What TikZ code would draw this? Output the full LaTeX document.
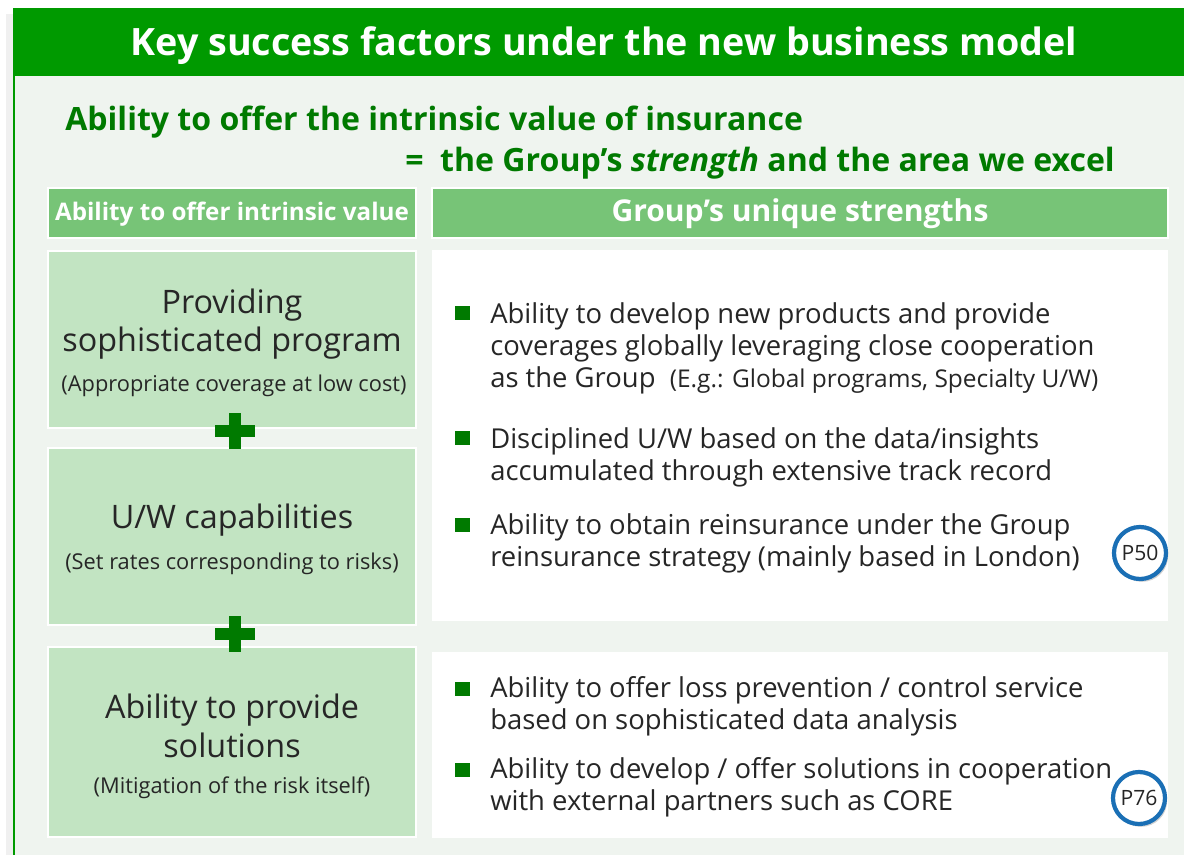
\documentclass[tikz,border=0pt]{standalone}
\usepackage{fontspec}
\setmainfont{Open Sans}
\usetikzlibrary{shadows}

\definecolor{hdrgreen}{HTML}{009A00}
\definecolor{darkgreen}{HTML}{007A00}
\definecolor{midgreen}{HTML}{77C477}
\definecolor{palegreen}{HTML}{C2E4C2}
\definecolor{panelbg}{HTML}{EFF4EF}
\definecolor{refblue}{HTML}{1A6FB5}
\definecolor{bodytext}{HTML}{262626}

\tikzset{
  bigtext/.style={align=center, text=bodytext, inner sep=0pt, font=\fontsize{23}{27.5}\selectfont},
  smalltext/.style={align=center, text=bodytext, inner sep=0pt, font=\fontsize{15.5}{18}\selectfont},
  bullettext/.style={anchor=west, align=left, text=bodytext, inner sep=0pt, font=\fontsize{19.5}{22.8}\selectfont},
  bulletsq/.style={fill=darkgreen, inner sep=0pt, minimum size=10pt},
  pageref/.style={circle, draw=refblue, line width=3pt, fill=white, minimum size=37pt, inner sep=0pt,
    drop shadow={shadow xshift=1.5pt, shadow yshift=-2pt, opacity=.35}, font=\fontsize{15}{17}\selectfont, text=bodytext},
  headbar/.style={fill=midgreen, draw=white, line width=.8pt},
  leftbox/.style={fill=palegreen, draw=white, line width=1.6pt},
  rightbox/.style={fill=white}
}

\begin{document}
\begin{tikzpicture}[x=0.025cm, y=-0.025cm]
	\useasboundingbox (0,0) rectangle (1184,855);
	% frame
	\fill[white] (0,0) rectangle (1184,855);
	\fill[black!6] (6,14) rectangle (14,855);
	\fill[panelbg] (14,76) rectangle (1184,855);
	\fill[hdrgreen] (14,8) rectangle (1184,76);
	\draw[hdrgreen, line width=1.6pt] (14,8) -- (14,855);
	\node[text=white, font=\bfseries\fontsize{26.8}{30}\selectfont] (title) at (604,46) {Key success factors under the new business model};
	
	% subtitle
	\node[anchor=base west, text=darkgreen, font=\bfseries\fontsize{22.8}{26}\selectfont, inner sep=0pt] (sub1) at (65,130) {Ability to offer the intrinsic value of insurance};
	\node[anchor=base west, text=darkgreen, font=\bfseries\fontsize{22.8}{26}\selectfont, inner sep=0pt] (sub2) at (405,171) {=\ \ the Group’s \textit{strength} and the area we excel};
	
	% column heads
	\fill[headbar] (48,188) rectangle (416,238);
	\fill[headbar] (432,188) rectangle (1168,238);
	\node[text=white, font=\bfseries\fontsize{17.2}{19}\selectfont] (headL) at (232,214) {Ability to offer intrinsic value};
	\node[text=white, font=\bfseries\fontsize{21.4}{24}\selectfont] (headR) at (800,214) {Group’s unique strengths};
	
	% left boxes
	\draw[leftbox] (48,251) rectangle (416,428);
	\draw[leftbox] (48,448) rectangle (416,625);
	\draw[leftbox] (48,647) rectangle (416,837);
	\node[bigtext] (prog) at (232,324) {Providing\\sophisticated program};
	\node[smalltext] (progsub) at (234,386) {(Appropriate coverage at low cost)};
	\node[bigtext] (uw) at (232,520) {U/W capabilities};
	\node[smalltext] (uwsub) at (232,564) {(Set rates corresponding to risks)};
	\node[bigtext] (sol) at (232,726) {Ability to provide\\solutions};
	\node[smalltext] (solsub) at (232,788) {(Mitigation of the risk itself)};
	
	% plus signs
	\foreach \py/\nm in {431/plusA, 634/plusB}{
		\fill[darkgreen] (215,\py-6) rectangle (255,\py+6);
		\fill[darkgreen] (229,\py-18) rectangle (241,\py+18);
		\coordinate (\nm) at (235,\py);
	}
	
	% right boxes
	\fill[rightbox] (432,250) rectangle (1168,621);
	\fill[rightbox] (432,652) rectangle (1168,838);
	
	% bullets
	\foreach \by/\nm in {313/bA, 438/bB, 525/bC, 689/bD, 770/bE}{
		\node[bulletsq] (\nm) at (462.5,\by) {};
	}
	\node[bullettext] (tA) at (490,348) {Ability to develop new products and provide\\coverages globally leveraging close cooperation\\as the Group\ \ {\fontsize{17.4}{20}\selectfont(E.g.: Global programs, Specialty U/W)}};
	\node[bullettext] (tB) at (490,457) {Disciplined U/W based on the data/insights\\accumulated through extensive track record};
	\node[bullettext] (tC) at (490,543) {Ability to obtain reinsurance under the Group\\reinsurance strategy (mainly based in London)};
	\node[bullettext] (tD) at (490,706) {Ability to offer loss prevention / control service\\based on sophisticated data analysis};
	\node[bullettext] (tE) at (490,787) {Ability to develop / offer solutions in cooperation\\with external partners such as CORE};
	
	% page refs
	\node[pageref] (p50) at (1140,553) {P50};
	\node[pageref] (p76) at (1139,798) {P76};
	
\end{tikzpicture}
\end{document}
